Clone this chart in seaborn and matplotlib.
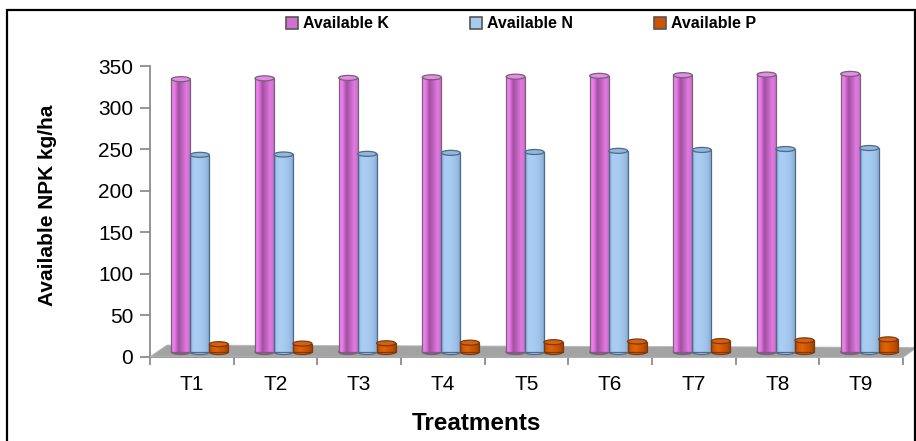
import numpy as np
import pandas as pd
import seaborn as sns
import matplotlib
matplotlib.use("Agg")
import matplotlib.pyplot as plt
from matplotlib.patches import Ellipse, Polygon, Rectangle, Patch
from matplotlib.colors import LinearSegmentedColormap
from matplotlib.transforms import ScaledTranslation

# ---- data -------------------------------------------------------------
treatments = ["T1", "T2", "T3", "T4", "T5", "T6", "T7", "T8", "T9"]
series = ["Available K", "Available N", "Available P"]
available_k = [328.5, 329.5, 330.0, 330.8, 331.5, 332.5, 333.3, 334.0, 334.8]
available_n = [237.4, 237.8, 238.6, 239.8, 240.8, 242.2, 243.3, 244.4, 245.6]
available_p = [9.4, 10.1, 10.5, 11.2, 11.8, 12.6, 13.1, 14.0, 15.2]
y_ticks = [0, 50, 100, 150, 200, 250, 300, 350]

df = pd.DataFrame({
    "Treatment": treatments * 3,
    "Nutrient": [s for s in series for _ in treatments],
    "Value": available_k + available_n + available_p,
})

# ---- styling ----------------------------------------------------------
base_colors = {"Available K": "#d070d0", "Available N": "#a6caf0", "Available P": "#cc5500"}
gradients = {
    "Available K": ["#f58cf5", "#e678e6", "#a050a0", "#c062c0", "#e07ae0", "#cf6ecf"],
    "Available N": ["#8cb2da", "#a8ccf2", "#aacef3", "#a4c8ee", "#9cc0e6", "#88acd4"],
    "Available P": ["#b04600", "#d85c05", "#e06408", "#d35800", "#c45000", "#a04000"],
}
cap_colors = {"Available K": "#e88ae8", "Available N": "#92b6dc", "Available P": "#d86010"}
edge_colors = {"Available K": "#736373", "Available N": "#4f6a88", "Available P": "#7a3a10"}
axis_gray = "#8c8c8c"

sns.set_style("white")
plt.rcParams["font.family"] = ["Liberation Sans", "DejaVu Sans"]
plt.rcParams["text.color"] = "black"
plt.rcParams["axes.labelcolor"] = "black"

W, H, DPI = 916, 441, 100
fig = plt.figure(figsize=(W / DPI, H / DPI), dpi=DPI)
ax_left, ax_right = 150 / W, 903 / W
ax_bottom, ax_top = (H - 356.7) / H, (H - 66) / H
ax = fig.add_axes([ax_left, ax_bottom, ax_right - ax_left, ax_top - ax_bottom])

sns.barplot(data=df, x="Treatment", y="Value", hue="Nutrient", hue_order=series,
            order=treatments, palette=base_colors, saturation=1, width=0.68,
            dodge=True, legend=False, errorbar=None, ax=ax,
            edgecolor="#777777", linewidth=0.8)

# depth shift: columns stand a few pixels back from the front edge of the floor
depth = ax.transData + ScaledTranslation(8 / DPI, 4.7 / DPI, fig.dpi_scale_trans)
px_per_unit = (356.7 - 66) / 350.0
cap_h = 5.0 / px_per_unit

for name, container in zip(series, ax.containers):
    cmap = LinearSegmentedColormap.from_list(name, gradients[name])
    for bar in container.patches:
        x0, w, h = bar.get_x(), bar.get_width(), bar.get_height()
        bar.set_transform(depth)
        bar.set_facecolor("none")
        bar.set_edgecolor(edge_colors[name])
        bar.set_linewidth(0.9)
        bar.set_zorder(3)
        im = ax.imshow(np.linspace(0, 1, 256).reshape(1, -1), cmap=cmap, aspect="auto",
                       extent=[x0, x0 + w, 0, h], transform=depth, zorder=2.5,
                       interpolation="bilinear")
        im.set_clip_path(bar)
        # rounded base and elliptical top of the cylinder
        ax.add_patch(Ellipse((x0 + w / 2, 0), w, cap_h, transform=depth,
                             facecolor=gradients[name][2], edgecolor=edge_colors[name],
                             linewidth=0.9, zorder=2.4, clip_on=False))
        ax.add_patch(Ellipse((x0 + w / 2, h), w, cap_h, transform=depth,
                             facecolor=cap_colors[name], edgecolor=edge_colors[name],
                             linewidth=0.9, zorder=3.5, clip_on=False))

# grey floor of the plot area
floor = Polygon([(0, 0), (1.0, -0.003), (1.0186, 0.032), (0.0226, 0.040)],
                closed=True, transform=ax.transAxes, facecolor="#a3a3a3",
                edgecolor="#b8b8b8", linewidth=0.6, zorder=1, clip_on=False)
ax.add_patch(floor)

ax.set_xlim(-0.5, len(treatments) - 0.5)
ax.set_ylim(0, 350)
ax.set_yticks(y_ticks)
ax.set_xticks(range(len(treatments)))
ax.set_xticklabels(treatments)
ax.set_xticks(np.arange(-0.5, len(treatments)), minor=True)

for side in ["top", "right"]:
    ax.spines[side].set_visible(False)
for side in ["left", "bottom"]:
    ax.spines[side].set_color(axis_gray)
    ax.spines[side].set_linewidth(1.3)
    ax.spines[side].set_zorder(0.5)

ax.tick_params(axis="y", which="major", direction="out", length=7, width=1.3,
               color=axis_gray, labelsize=15, labelcolor="black", pad=5, left=True)
ax.tick_params(axis="x", which="major", length=0, labelsize=15, labelcolor="black", pad=13)
ax.tick_params(axis="x", which="minor", direction="out", length=6, width=1.3,
               color=axis_gray, bottom=True)

ax.set_ylabel("Available NPK kg/ha", fontsize=15, fontweight="bold", color="black")
ax.yaxis.set_label_coords(-0.123, 0.52)
ax.set_xlabel("Treatments", fontsize=17.5, fontweight="bold", color="black")
ax.xaxis.set_label_coords(0.433, -0.19)
ax.set_facecolor("none")
ax.grid(False)

handles = [Patch(facecolor=base_colors[s], edgecolor="#555555", linewidth=1.2) for s in series]
leg = fig.legend(handles, series, loc="center", bbox_to_anchor=(521 / W, 1 - 24 / H), ncol=3,
                 frameon=False, prop={"family": "Liberation Sans", "weight": "bold", "size": 11.5},
                 handlelength=0.75, handleheight=0.75, handletextpad=0.3, columnspacing=5.1)
for t in leg.get_texts():
    t.set_color("black")

# chart border
fig.patches.append(Rectangle((7 / W, -0.1), (915 - 7) / W, 1 - 10 / H + 0.1,
                             transform=fig.transFigure, fill=False,
                             edgecolor="black", linewidth=1.6))

fig.savefig("out.png", dpi=DPI)
